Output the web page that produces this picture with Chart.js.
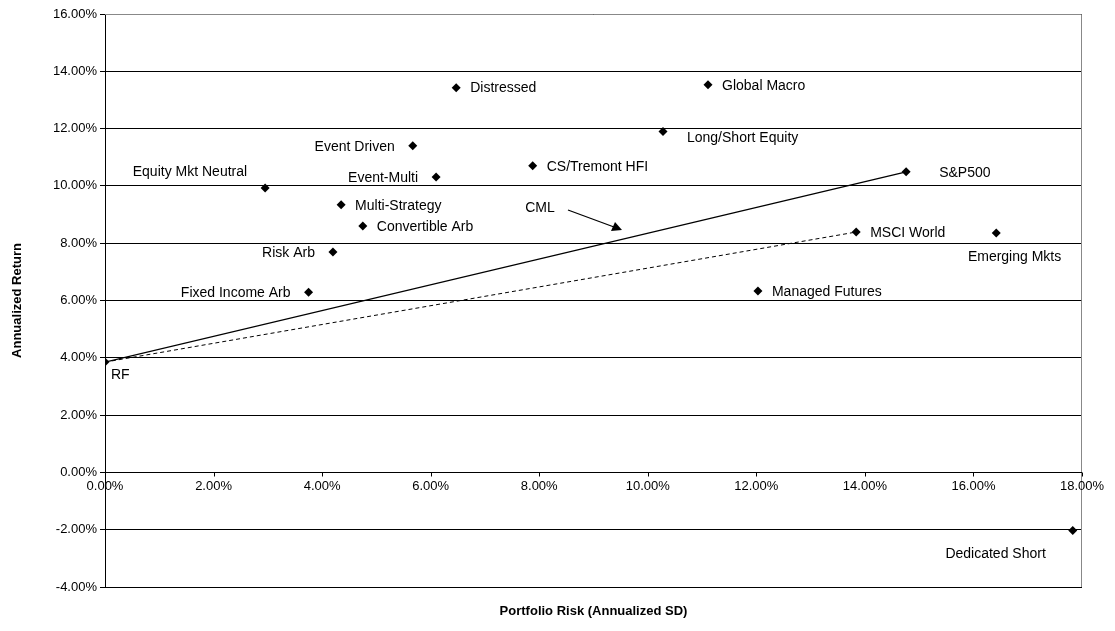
<!DOCTYPE html>
<html>
<head>
<meta charset="utf-8">
<script src="https://cdn.jsdelivr.net/npm/chart.js@4.4.0/dist/chart.umd.min.js"></script>
<style>
  body { margin: 0; background: #fff; }
  canvas { display: block; }
</style>
</head>
<body>
<canvas id="chart" width="1115" height="631"></canvas>
<script>
// Asset names, risk (annualized SD, %) and return (annualized, %)
const names = ['RF', 'Equity Mkt Neutral', 'Fixed Income Arb', 'Risk Arb', 'Multi-Strategy',
    'Convertible Arb', 'Event Driven', 'Event-Multi', 'Distressed', 'CS/Tremont HFI',
    'Long/Short Equity', 'Global Macro', 'Managed Futures', 'MSCI World', 'S&P500',
    'Emerging Mkts', 'Dedicated Short'];
const risk = [0.00, 2.95, 3.75, 4.20, 4.35, 4.75, 5.67, 6.10, 6.47, 7.88,
    10.28, 11.11, 12.03, 13.84, 14.76, 16.42, 17.83];
const returns = [3.85, 9.93, 6.29, 7.69, 9.34, 8.60, 11.40, 10.31, 13.43, 10.70,
    11.90, 13.53, 6.33, 8.39, 10.49, 8.36, -2.03];
const xTicks = [0, 2, 4, 6, 8, 10, 12, 14, 16, 18];

// where each label sits relative to its marker
const labelPos = ['br', 'tl', 'l', 'l', 'r', 'r', 'l', 'l', 'r', 'r',
    'rb', 'r', 'r', 'r', 'rf', 'em', 'bl'];

const pts = risk.map((x, i) => ({ x: x, y: returns[i] }));
const iRF = names.indexOf('RF'), iSP = names.indexOf('S&P500'), iMS = names.indexOf('MSCI World');

const overlay = {
    id: 'overlay',
    afterDraw(chart) {
        const ctx = chart.ctx, a = chart.chartArea;
        const xs = chart.scales.x, ys = chart.scales.y;
        ctx.save();
        // grey frame top/right
        ctx.strokeStyle = '#888';
        ctx.lineWidth = 1;
        ctx.beginPath();
        ctx.moveTo(a.left, a.top + 0.5); ctx.lineTo(a.right - 0.5, a.top + 0.5);
        ctx.lineTo(a.right - 0.5, a.bottom);
        ctx.stroke();
        // x axis at zero
        const y0 = Math.round(ys.getPixelForValue(0)) + 0.5;
        ctx.strokeStyle = '#000';
        ctx.beginPath();
        ctx.moveTo(a.left, y0); ctx.lineTo(a.right, y0);
        xTicks.forEach(t => {
            const px = Math.round(xs.getPixelForValue(t)) + 0.5;
            ctx.moveTo(px, y0); ctx.lineTo(px, y0 + 4);
        });
        ctx.stroke();
        ctx.fillStyle = '#000';
        ctx.font = '13px "Liberation Sans", Arial';
        ctx.textAlign = 'center';
        ctx.textBaseline = 'top';
        xTicks.forEach(t => ctx.fillText(t.toFixed(2) + '%', xs.getPixelForValue(t), y0 + 7));
        // x title
        ctx.font = 'bold 13px "Liberation Sans", Arial';
        ctx.fillText('Portfolio Risk (Annualized SD)', (a.left + a.right) / 2, 605);
        // point labels
        ctx.font = '14px "Liberation Sans", Arial';
        pts.forEach((p, i) => {
            const px = xs.getPixelForValue(p.x), py = ys.getPixelForValue(p.y);
            const pos = labelPos[i];
            ctx.textBaseline = 'middle';
            if (pos === 'r') { ctx.textAlign = 'left'; ctx.fillText(names[i], px + 14, py + 1); }
            else if (pos === 'rf') { ctx.textAlign = 'left'; ctx.fillText(names[i], px + 33, py + 1); }
            else if (pos === 'rb') { ctx.textAlign = 'left'; ctx.fillText(names[i], px + 24, py + 7); }
            else if (pos === 'l') { ctx.textAlign = 'right'; ctx.fillText(names[i], px - 18, py + 1); }
            else if (pos === 'tl') { ctx.textAlign = 'right'; ctx.fillText(names[i], px - 18, py - 16); }
            else if (pos === 'br') { ctx.textAlign = 'left'; ctx.fillText(names[i], px + 6, py + 13); }
            else if (pos === 'em') { ctx.textAlign = 'right'; ctx.fillText(names[i], px + 65, py + 24); }
            else if (pos === 'bl') { ctx.textAlign = 'right'; ctx.fillText(names[i], px - 27, py + 24); }
        });
        // CML annotation with arrow
        ctx.textAlign = 'center';
        ctx.fillText('CML', 540, 208);
        ctx.lineWidth = 1.3;
        ctx.beginPath();
        ctx.moveTo(568, 210); ctx.lineTo(614, 227);
        ctx.stroke();
        ctx.beginPath();
        ctx.moveTo(622, 230); ctx.lineTo(611, 231); ctx.lineTo(615, 222);
        ctx.closePath(); ctx.fill();
        ctx.restore();
    }
};

new Chart(document.getElementById('chart'), {
    type: 'scatter',
    data: {
        datasets: [
            {
                data: pts,
                pointStyle: 'rectRot',
                pointRadius: 4.5,
                backgroundColor: '#000',
                borderColor: '#000',
                borderWidth: 0
            },
            {
                type: 'line',
                data: [pts[iRF], pts[iSP]],
                borderColor: '#000',
                borderWidth: 1.3,
                pointRadius: 0,
                fill: false
            },
            {
                type: 'line',
                data: [pts[iRF], pts[iMS]],
                borderColor: '#000',
                borderWidth: 1,
                borderDash: [4, 3],
                pointRadius: 0,
                fill: false
            }
        ]
    },
    options: {
        responsive: false,
        animation: false,
        layout: { padding: { top: 14, right: 33, bottom: 44, left: 10 } },
        plugins: { legend: { display: false }, tooltip: { enabled: false } },
        scales: {
            x: { type: 'linear', min: 0, max: 18, display: false },
            y: {
                min: -4, max: 16,
                afterFit: s => { s.width = 95; },
                ticks: {
                    stepSize: 2,
                    color: '#000',
                    font: { size: 13, family: '"Liberation Sans", Arial' },
                    callback: v => v.toFixed(2) + '%'
                },
                grid: { color: '#000', lineWidth: 1, tickLength: 5 },
                border: { color: '#000' },
                title: {
                    display: true,
                    text: 'Annualized Return',
                    color: '#000',
                    font: { size: 13, weight: 'bold', family: '"Liberation Sans", Arial' },
                    padding: 0
                }
            }
        }
    },
    plugins: [overlay]
});
</script>
</body>
</html>
